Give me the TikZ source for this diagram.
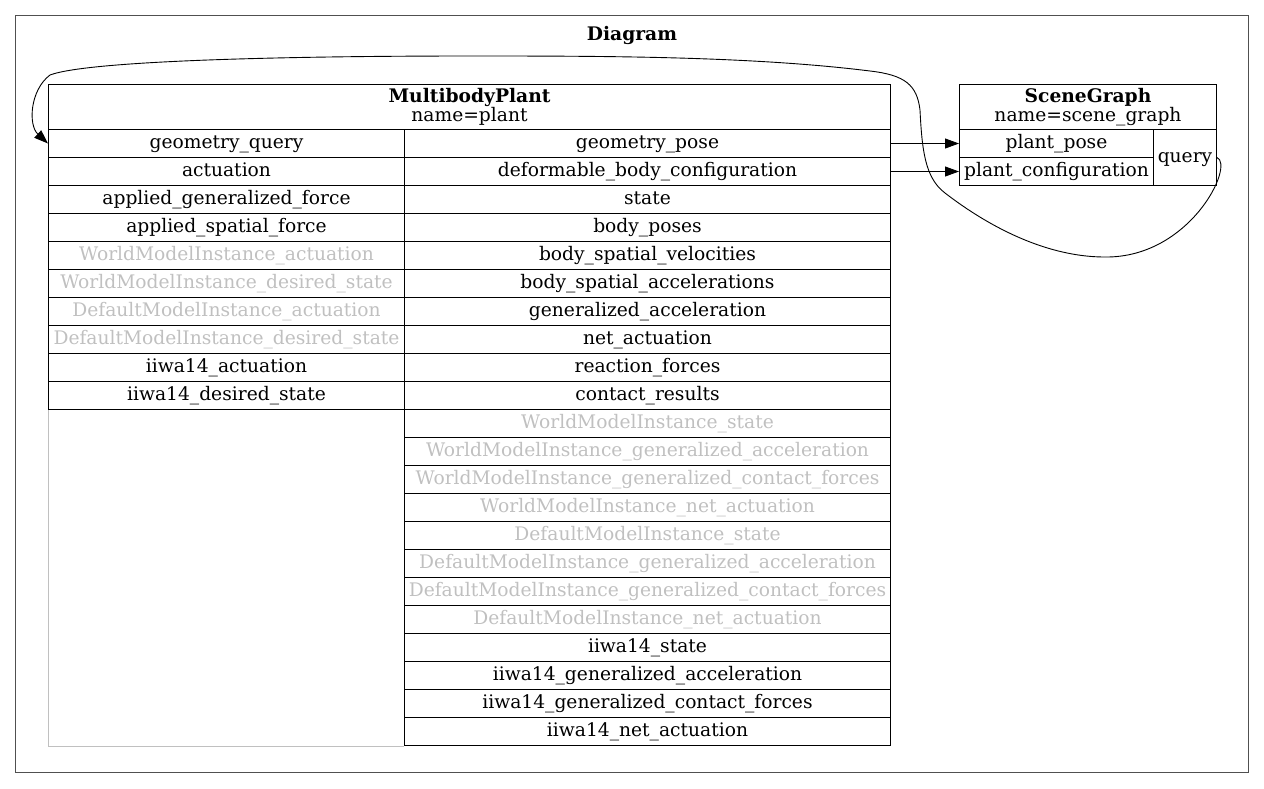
\documentclass[tikz,border=0pt]{standalone}
\usepackage{fontspec}
\setmainfont{DejaVu Serif}
\usetikzlibrary{arrows.meta}

\definecolor{framegray}{RGB}{80,80,80}
\definecolor{dimtext}{RGB}{192,192,192}

\tikzset{
  box/.style={draw, line width=1pt, inner sep=0pt, anchor=north west},
  cell/.style={box, minimum height=28pt, text height=13.5pt, text depth=4.5pt},
  header/.style={box, minimum height=45pt, align=center},
  wire/.style={line width=0.9pt, -{Triangle[length=14pt,width=10pt]}},
  dimline/.style={draw=dimtext, line width=1pt}
}

\begin{document}
\begin{tikzpicture}[x=1pt, y=-1pt, font=\fontsize{18.67}{17.5}\selectfont]
  \useasboundingbox (0,0) rectangle (1264,788);
  \node[draw=framegray, line width=1.2pt, anchor=north west, minimum width=1233pt, minimum height=757pt] (diagram) at (15,15) {};
  \node[font=\fontsize{18.67}{17.5}\selectfont\bfseries] (diagramtitle) at (632,35) {Diagram};

  % MultibodyPlant
  \node[header, minimum width=842pt] (plant) at (48,84) {\textbf{MultibodyPlant}\\name=plant};
  \foreach \t/\c [count=\i] in {geometry\_query/black, actuation/black,
      applied\_generalized\_force/black, applied\_spatial\_force/black,
      WorldModelInstance\_actuation/dimtext, WorldModelInstance\_desired\_state/dimtext,
      DefaultModelInstance\_actuation/dimtext, DefaultModelInstance\_desired\_state/dimtext,
      iiwa14\_actuation/black, iiwa14\_desired\_state/black}
    \node[cell, minimum width=356pt, text=\c] (in\i) at (48,{129+28*(\i-1)}) {\t};
  \foreach \t/\c [count=\i] in {geometry\_pose/black, deformable\_body\_configuration/black,
      state/black, body\_poses/black, body\_spatial\_velocities/black,
      body\_spatial\_accelerations/black, generalized\_acceleration/black,
      net\_actuation/black, reaction\_forces/black, contact\_results/black,
      WorldModelInstance\_state/dimtext, WorldModelInstance\_generalized\_acceleration/dimtext,
      WorldModelInstance\_generalized\_contact\_forces/dimtext, WorldModelInstance\_net\_actuation/dimtext,
      DefaultModelInstance\_state/dimtext, DefaultModelInstance\_generalized\_acceleration/dimtext,
      DefaultModelInstance\_generalized\_contact\_forces/dimtext, DefaultModelInstance\_net\_actuation/dimtext,
      iiwa14\_state/black, iiwa14\_generalized\_acceleration/black,
      iiwa14\_generalized\_contact\_forces/black, iiwa14\_net\_actuation/black}
    \node[cell, minimum width=486pt, text=\c] (out\i) at (404,{129+28*(\i-1)}) {\t};
  \draw[dimline] (in10.south west) -- (in10.south west |- out22.south) -- (out22.south west);

  % SceneGraph
  \node[header, minimum width=257pt] (scene) at (959,84) {\textbf{SceneGraph}\\name=scene\_graph};
  \node[cell, minimum width=194pt] (pose) at (959,129) {plant\_pose};
  \node[cell, minimum width=194pt] (config) at (959,157) {plant\_configuration};
  \node[cell, minimum width=63pt, minimum height=56pt] (query) at (1153,129) {query};

  \draw[wire] (out1.east) -- (pose.west);
  \draw[wire] (out2.east) -- (config.west);
  \draw[wire] (query.east) .. controls (1235,165) and (1190,258) .. (1105,257)
    .. controls (1040,257) and (980,220) .. (945,193)
    .. controls (925,178) and (922,150) .. (920,110)
    .. controls (917,85) and (905,75) .. (870,71)
    .. controls (750,56) and (600,56) .. (470,56)
    .. controls (300,56) and (90,60) .. (50,75)
    .. controls (30,90) and (28,125) .. (in1.west);
\end{tikzpicture}
\end{document}
